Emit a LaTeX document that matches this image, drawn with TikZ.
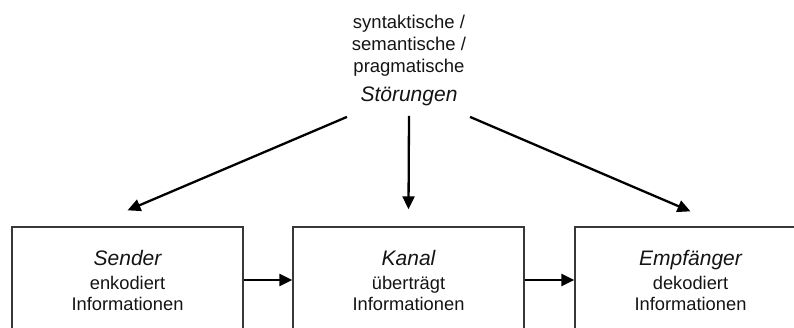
\documentclass[tikz,border=0pt]{standalone}
\usepackage{fontspec}
\setmainfont{Liberation Sans}
\usetikzlibrary{positioning,arrows.meta}

\begin{document}
\begin{tikzpicture}[x=1pt, y=-1pt,
    box/.style={draw=boxgray, line width=1.3pt, minimum width=231pt, minimum height=106pt,
        align=center, text=textblack, font=\fontsize{18.3}{21}\selectfont},
    label/.style={align=center, text=textblack, font=\fontsize{18.5}{22}\selectfont},
    flow/.style={-{Triangle[length=13pt, width=12pt]}, line width=2.3pt, black}]
    % Define the gray of the box lines and the text colour
    \definecolor{boxgray}{rgb}{0.22, 0.22, 0.22}
    \definecolor{textblack}{rgb}{0.08, 0.08, 0.08}

    % Picture frame, boxes run out at the bottom and the right
    \path[use as bounding box, clip] (0,0) rectangle (794,327);

    % Draw the three boxes
    \node[box] (sender) at (127.5,280) {{\itshape\fontsize{21}{25}\selectfont Sender}\\[3pt]enkodiert\\Informationen};
    \node[box] (kanal) at (408.5,280) {{\itshape\fontsize{21}{25}\selectfont Kanal}\\[3pt]überträgt\\Informationen};
    \node[box] (empf) at (690.5,280) {{\itshape\fontsize{21}{25}\selectfont Empfänger}\\[3pt]dekodiert\\Informationen};

    % Disturbances on top
    \node[label, font=\itshape\fontsize{21}{25}\selectfont, anchor=base] (stoer) at (409,101) {Störungen};
    \node[label, above=3pt of stoer] (typen) {syntaktische /\\semantische /\\pragmatische};

    % Arrows from the disturbances to the boxes
    \draw[flow] ([xshift=-62pt, yshift=-8pt]stoer.south) -- ([yshift=16pt]sender.north);
    \draw[flow] ([yshift=-7pt]stoer.south) -- ([yshift=17pt]kanal.north);
    \draw[flow] ([xshift=61pt, yshift=-8pt]stoer.south) -- ([yshift=15pt]empf.north);

    % Arrows between the boxes
    \draw[flow] (sender.east) -- (kanal.west);
    \draw[flow] (kanal.east) -- (empf.west);

\end{tikzpicture}
\end{document}
